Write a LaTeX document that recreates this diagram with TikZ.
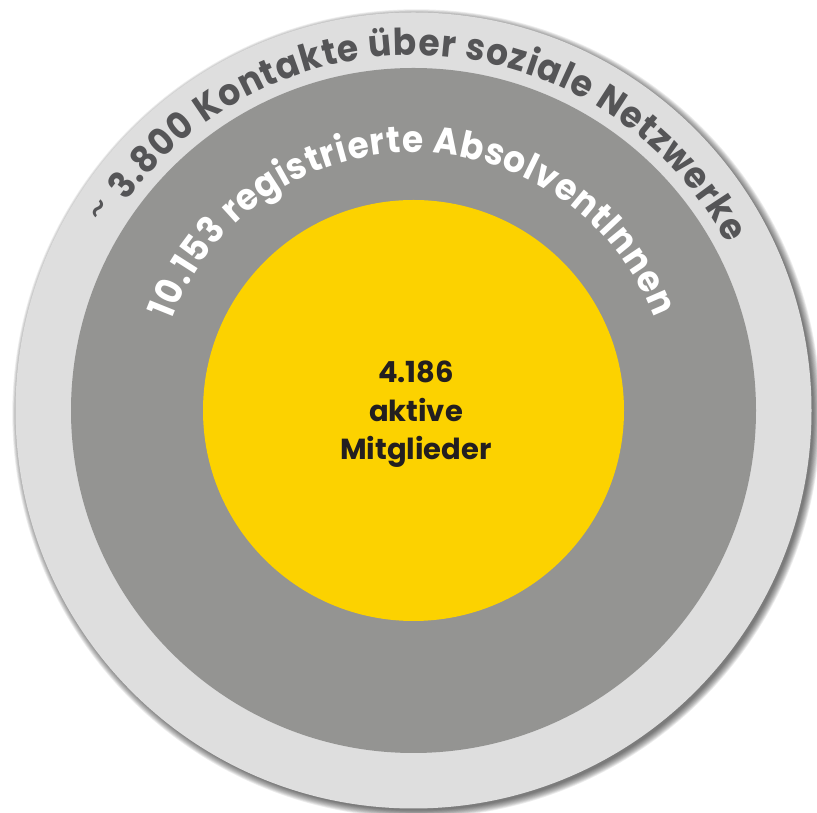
\documentclass[tikz,border=0pt]{standalone}
\usepackage{fontspec}
\setmainfont{Poppins}
\newfontfamily\ringfont{Poppins}[FakeStretch=0.93]
\usetikzlibrary{decorations.text}
\definecolor{ringlight}{HTML}{DEDEDE}
\definecolor{ringmid}{HTML}{949492}
\definecolor{sun}{HTML}{FCD200}
\definecolor{outertext}{HTML}{555557}
\definecolor{innertext}{HTML}{231F20}
\tikzset{
  disc/.style={circle, inner sep=0pt, outer sep=0pt},
  ringtext/.style={decorate, decoration={text along path, text align={fit to path}, #1}}
}
\begin{document}
\begin{tikzpicture}[x=1pt,y=1pt]
\useasboundingbox (0,0) rectangle (817,813);
\coordinate (c) at (413.5,402.5);
% soft shadow
\foreach \i in {9,...,0}
  \fill[black, fill opacity=0.07] ([shift={(3,-3)}]c) circle[radius=397+\i*0.8];
\node[disc, fill=ringlight, minimum size=796pt] (outer) at (c) {};
\node[disc, fill=ringmid, minimum size=685pt] (middle) at (c) {};
\node[disc, fill=sun, minimum size=421pt] (inner) at (c) {};
% inner label
\node[font=\fontsize{29}{38.5}\selectfont\bfseries, text=innertext, align=center] (lbl)
  at ([shift={(2.5,-4)}]c) {4.186\\aktive\\Mitglieder};
% outer ring text
\path[ringtext={text color=outertext, text={|\ringfont\fontsize{37}{37}\selectfont\bfseries|3.800 Kontakte über soziale Netzwerke}}]
  ([shift={(144:355)}]c) arc[start angle=144, end angle=28, radius=355];
\node[inner sep=0pt, font=\fontsize{40}{40}\selectfont, text=outertext, rotate=57] (tilde) at ([shift={(147.4:369)}]c) {\textasciitilde};
% middle ring text
\path[ringtext={text color=white, text={|\ringfont\fontsize{37}{37}\selectfont\bfseries|10.153 registrierte AbsolventInnen}}]
  ([shift={(159.5:258)}]c) arc[start angle=159.5, end angle=21, radius=258];
\end{tikzpicture}
\end{document}
